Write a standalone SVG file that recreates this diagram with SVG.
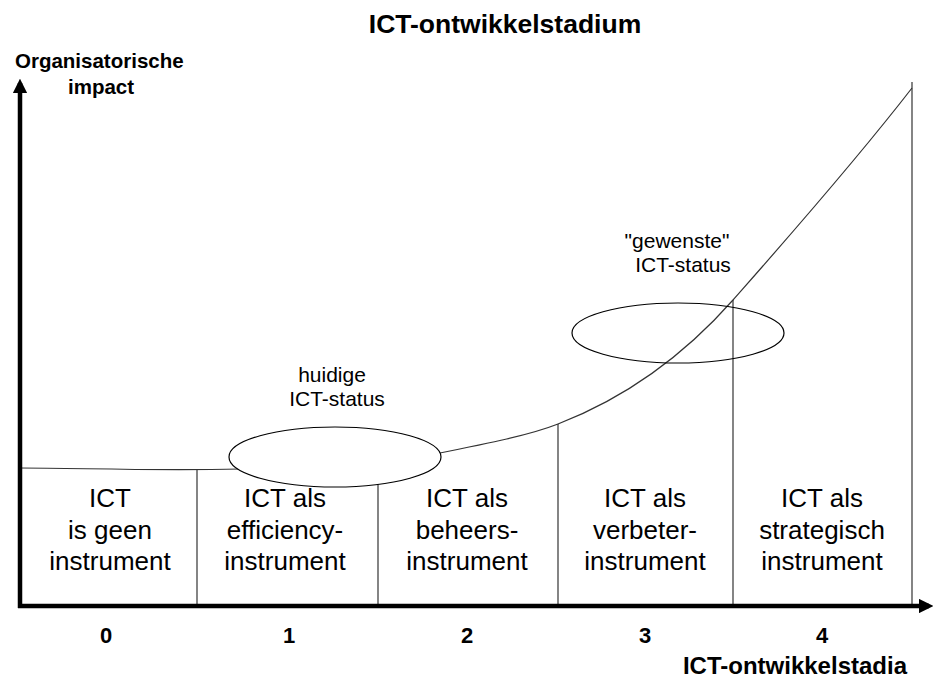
<svg xmlns="http://www.w3.org/2000/svg" width="936" height="680" viewBox="0 0 936 680">
<style>
text{font-family:"Liberation Sans",Arial,sans-serif;fill:#000}
.t{font-size:24px;font-weight:bold}
.b{font-size:26px;text-anchor:middle}
.num{font-size:22px;font-weight:bold;text-anchor:middle}
.s{font-size:21px;text-anchor:middle}
.thin{stroke:#333;stroke-width:1.2;fill:none}
.axis{stroke:#000;stroke-width:4.5;fill:none}
</style>
<defs>
<marker id="ah" viewBox="0 0 10 10" refX="7" refY="5" markerWidth="3.2" markerHeight="3.2" orient="auto" markerUnits="strokeWidth">
<path d="M0,0 L10,5 L0,10 Z" fill="#000"/>
</marker>
</defs>
<rect width="936" height="680" fill="#fff"/>
<text class="t" x="505" y="33" text-anchor="middle" style="font-size:26.5px">ICT-ontwikkelstadium</text>
<text class="t" x="15" y="68" style="font-size:20.5px">Organisatorische</text>
<text class="t" x="101" y="94" style="font-size:20.5px" text-anchor="middle">impact</text>
<g id="connectors">
<path class="thin" d="M20,468 C80,468 150,471 240,469"/>
<path class="thin" d="M435,454 C490,443 530,435 558,424 C620,400 680,360 733,300 C770,258 850,168 912,88"/>
<line class="thin" x1="197" y1="470" x2="197" y2="606"/>
<line class="thin" x1="378" y1="480" x2="378" y2="606"/>
<line class="thin" x1="558" y1="424" x2="558" y2="606"/>
<line class="thin" x1="733" y1="300" x2="733" y2="606"/>
<line class="thin" x1="912" y1="82" x2="912" y2="606"/>
</g>
<g id="ellipse-huidig">
<ellipse cx="335" cy="457" rx="106" ry="30" fill="#fff" stroke="#000" stroke-width="1.2"/>
</g>
<g id="ellipse-gewenst">
<ellipse cx="678" cy="333" rx="106" ry="30" fill="none" stroke="#000" stroke-width="1.2"/>
</g>
<g id="axes">
<line class="axis" x1="20" y1="608" x2="20" y2="83" marker-end="url(#ah)"/>
<line class="axis" x1="18" y1="606" x2="929" y2="606" marker-end="url(#ah)"/>
</g>
<g id="stage0"><text class="b" x="110" y="507">ICT</text><text class="b" x="110" y="539">is geen</text><text class="b" x="110" y="570">instrument</text></g>
<g id="stage1"><text class="b" x="285" y="507">ICT als</text><text class="b" x="285" y="539">efficiency-</text><text class="b" x="285" y="570">instrument</text></g>
<g id="stage2"><text class="b" x="467" y="507">ICT als</text><text class="b" x="467" y="539">beheers-</text><text class="b" x="467" y="570">instrument</text></g>
<g id="stage3"><text class="b" x="645" y="507">ICT als</text><text class="b" x="645" y="539">verbeter-</text><text class="b" x="645" y="570">instrument</text></g>
<g id="stage4"><text class="b" x="822" y="507">ICT als</text><text class="b" x="822" y="539">strategisch</text><text class="b" x="822" y="570">instrument</text></g>
<text class="num" x="106" y="643" style="font-size:22px">0</text>
<text class="num" x="289" y="643" style="font-size:22px">1</text>
<text class="num" x="467" y="643" style="font-size:22px">2</text>
<text class="num" x="645" y="643" style="font-size:22px">3</text>
<text class="num" x="822" y="643" style="font-size:22px">4</text>
<text class="t" x="907" y="674" text-anchor="end">ICT-ontwikkelstadia</text>
<text class="s" x="332" y="382">huidige</text>
<text class="s" x="337" y="406">ICT-status</text>
<text class="s" x="677" y="248">"gewenste"</text>
<text class="s" x="683" y="272">ICT-status</text>
</svg>
